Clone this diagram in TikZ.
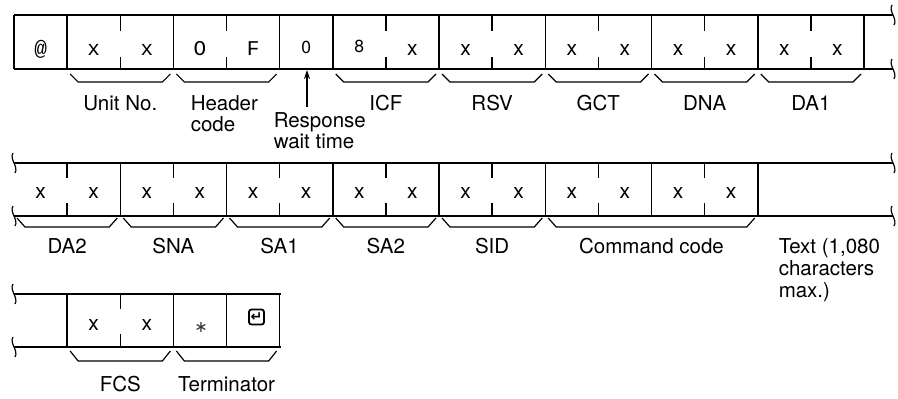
\documentclass[tikz,border=0pt]{standalone}
\usepackage{fontspec}
\setmainfont{TeX Gyre Heros}
\newfontfamily\monofont{Liberation Mono}
\newfontfamily\symfont{DejaVu Sans}
\usetikzlibrary{arrows.meta}

\begin{document}
\begin{tikzpicture}[x=1pt,y=-1pt,line width=1.5pt,
  lbl/.style={font=\fontsize{20.5}{21}\selectfont,anchor=base,inner sep=0pt},
  ch/.style={font=\fontsize{21}{21}\selectfont,anchor=base,inner sep=0pt},
  dig/.style={ch,font=\fontsize{17.5}{17.5}\selectfont},
  mono/.style={ch,font=\monofont\fontsize{21}{21}\selectfont},
  br/.style={line width=1.2pt},
  brk/.style={line width=1.2pt}]
  \useasboundingbox (0,0) rectangle (898,399);
  \def\u{53.125}
  % row 1
  \draw (14,15) -- (893,15);  \draw (14,69) -- (893,69);
  \foreach \i in {0,1,3,5,6,8,10,12,14,16}
    \draw ({14+\i*\u},15) -- ({14+\i*\u},69);
  \foreach \i in {2,4,7,9,11,13,15}
    {\draw ({14+\i*\u},15) -- ++(0,16); \draw ({14+\i*\u},69) -- ++(0,-12);}
  \foreach \k/\t in {0/@,1/x,2/x,3/O,4/F}
    \node[mono] (a\k) at ({14+(\k+0.5)*\u},55) {\t};
  \node[dig] (a5) at ({14+5.5*\u},53) {0};
  \node[dig] (a6) at ({14+6.5*\u},52) {8};
  \foreach \k in {7,...,15}
    \node[ch] (a\k) at ({14+(\k+0.5)*\u},55) {x};
  \foreach \a/\b/\t in {1/3/Unit No.,6/8/ICF,8/10/RSV,10/12/GCT,12/14/DNA,14/16/DA1}
    {\draw[br] ({14+\a*\u+3},74) -- ++(8,8) -- ({14+\b*\u-11},82) -- ++(8,-8);
     \node[lbl] (la\a) at ({14+(\a+\b)/2*\u},110) {\t};}
  \draw[br] ({14+3*\u+3},74) -- ++(8,8) -- ({14+5*\u-11},82) -- ++(8,-8);
  \node[lbl,align=left,anchor=base west] (hdr) at (190,131) {Header\\code};
  \node[lbl,align=left,anchor=base west] (rsp) at (273,148) {Response\\wait time};
  \coordinate (rwt) at (307,107);
  \coordinate (rw) at (307,70);
  \draw[-{Stealth[length=9pt,width=6pt]},line width=1.3pt] (rwt) -- (rw);
  % row 2
  \draw (14,163) -- (893,163);  \draw (14,216) -- (893,216);
  \foreach \i in {2,4,6,8,10,12,14}
    \draw ({14+\i*\u},163) -- ({14+\i*\u},216);
  \foreach \i in {1,3,5,7,9,11,13}
    {\draw ({14+\i*\u},163) -- ++(0,15); \draw ({14+\i*\u},216) -- ++(0,-13);}
  \foreach \k in {0,...,13}
    \node[ch] (b\k) at ({14+(\k+0.5)*\u},198) {x};
  \foreach \a/\b/\t in {0/2/DA2,2/4/SNA,4/6/SA1,6/8/SA2,8/10/SID,10/14/Command code}
    {\draw[br] ({14+\a*\u+3},218) -- ++(8,9) -- ({14+\b*\u-11},227) -- ++(8,-9);
     \node[lbl] (lb\a) at ({14+(\a+\b)/2*\u},253) {\t};}
  \node[lbl,align=left,anchor=base west,font=\fontsize{20.5}{22}\selectfont] (txt)
    at (778,297) {Text (1,080\\characters\\max.)};
  % row 3
  \draw (14,294) -- (281,294);  \draw (14,347) -- (281,347);
  \foreach \i in {1,3,5}
    \draw ({14+\i*\u},294) -- ({14+\i*\u},347);
  \draw[line width=1pt] ({14+4*\u},294) -- ({14+4*\u},347);
  \draw ({14+2*\u},294) -- ++(0,15);  \draw ({14+2*\u},347) -- ++(0,-13);
  \node[ch] (c1) at ({14+1.5*\u},330) {x};
  \node[ch] (c2) at ({14+2.5*\u},330) {x};
  \node[font=\symfont\fontsize{16}{16}\selectfont,inner sep=0pt,black!80] (ast) at (201,327) {∗};
  \node[draw,rounded corners=2.5pt,line width=1.8pt,minimum size=15pt,inner sep=0pt,
    font=\symfont\bfseries\fontsize{14}{14}\selectfont] (ret) at (256.5,317) {↵};
  \foreach \a/\b/\t in {1/3/FCS,3/5/Terminator}
    {\draw[br] ({14+\a*\u+3},351) -- ++(8,10) -- ({14+\b*\u-11},361) -- ++(8,-10);
     \node[lbl] (lc\a) at ({14+(\a+\b)/2*\u},391) {\t};}
  % line breaks
  \foreach \x/\y in {893/15,893/69,14/163,893/163,14/216,893/216,14/294,14/347}
    \draw[brk] ({\x-1},{\y-10}) .. controls ({\x-5},{\y-4}) and ({\x+5},{\y+4}) .. ({\x+1},{\y+10});
\end{tikzpicture}
\end{document}
